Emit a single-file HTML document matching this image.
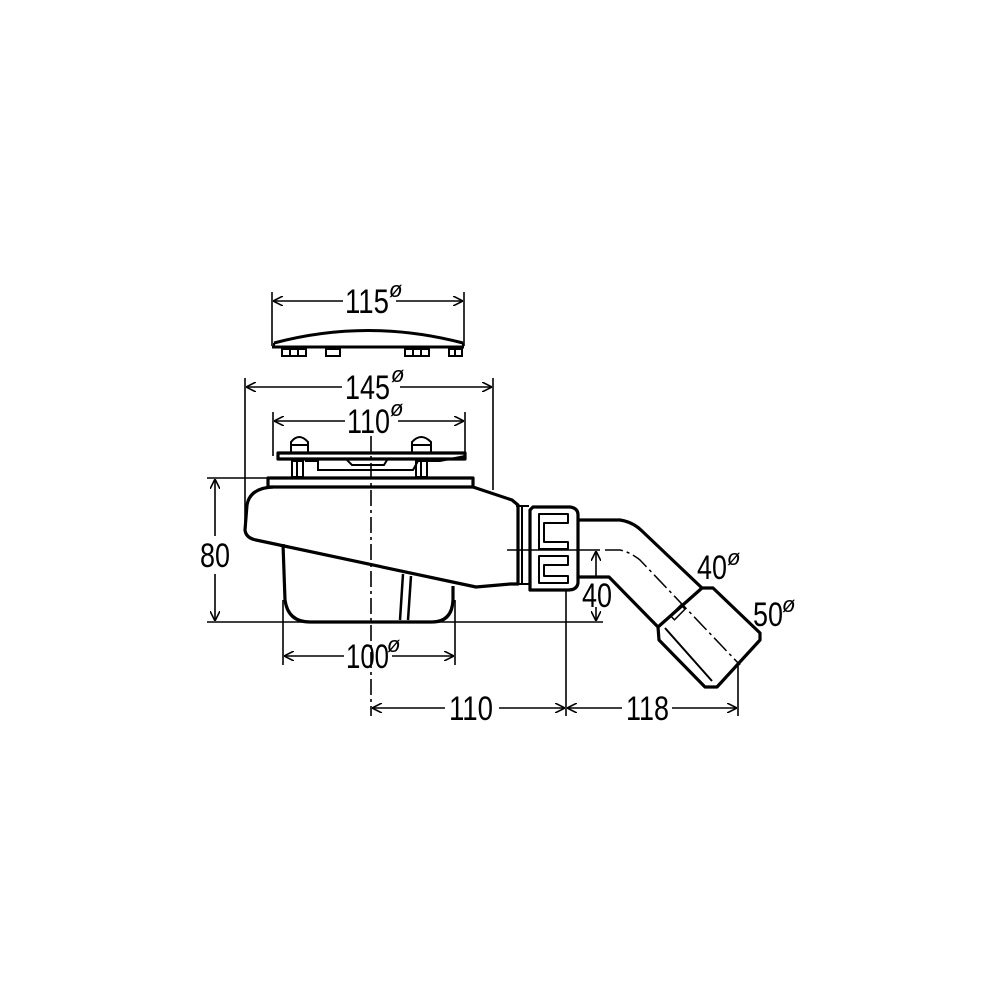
<!DOCTYPE html>
<html><head><style>html,body{margin:0;padding:0;background:#fff}svg{display:block}</style></head><body>
<svg width="1000" height="1000" viewBox="0 0 1000 1000" xmlns="http://www.w3.org/2000/svg">
<defs>
<marker id="a" viewBox="0 0 10 10" refX="10" refY="5" markerWidth="10" markerHeight="10" markerUnits="userSpaceOnUse" orient="auto-start-reverse"><path d="M0,0 L10,5 L0,10" fill="none" stroke="#000" stroke-width="1.6"/></marker>
</defs>
<g fill="none" stroke="#000" stroke-width="1.6">
<line x1="272" y1="292" x2="272" y2="346"/><line x1="464" y1="292" x2="464" y2="346"/>
<line x1="273" y1="301" x2="343" y2="301" marker-start="url(#a)"/><line x1="396" y1="301" x2="463" y2="301" marker-end="url(#a)"/>
<line x1="245" y1="378" x2="245" y2="522"/><line x1="493" y1="378" x2="493" y2="490"/>
<line x1="246" y1="387" x2="342" y2="387" marker-start="url(#a)"/><line x1="400" y1="387" x2="492" y2="387" marker-end="url(#a)"/>
<line x1="273" y1="412" x2="273" y2="456"/><line x1="465" y1="412" x2="465" y2="456"/>
<line x1="274" y1="421" x2="345" y2="421" marker-start="url(#a)"/><line x1="398" y1="421" x2="464" y2="421" marker-end="url(#a)"/>
<line x1="371" y1="436" x2="371" y2="716" stroke-dasharray="16,4,3,4"/>
<line x1="207" y1="478" x2="270" y2="478"/><line x1="207" y1="622" x2="603" y2="622"/>
<line x1="215" y1="479" x2="215" y2="536" marker-start="url(#a)"/><line x1="215" y1="574" x2="215" y2="621" marker-end="url(#a)"/>
<line x1="283" y1="600" x2="283" y2="665"/><line x1="455" y1="600" x2="455" y2="665"/>
<line x1="284" y1="656" x2="344" y2="656" marker-start="url(#a)"/><line x1="392" y1="656" x2="454" y2="656" marker-end="url(#a)"/>
<line x1="566" y1="590" x2="566" y2="716"/><line x1="738" y1="665" x2="738" y2="716"/>
<line x1="372" y1="708" x2="445" y2="708" marker-start="url(#a)"/><line x1="499" y1="708" x2="565" y2="708" marker-end="url(#a)"/>
<line x1="567" y1="708" x2="622" y2="708" marker-start="url(#a)"/><line x1="672" y1="708" x2="737" y2="708" marker-end="url(#a)"/>
<line x1="507" y1="550" x2="600" y2="550"/>
<line x1="596" y1="551" x2="596" y2="578" marker-start="url(#a)"/><line x1="596" y1="607" x2="596" y2="621" marker-end="url(#a)"/>
</g>
<g fill="none" stroke="#000" stroke-width="3" stroke-linejoin="round">
<path d="M274,343 Q368,318 463,343"/><line x1="272" y1="347" x2="464" y2="347"/>
<path d="M274,343 L274,348 M463,343 L463,348" stroke-width="2"/>
</g>
<g fill="none" stroke="#000" stroke-width="2">
<rect x="282" y="349" width="24" height="7"/><line x1="290" y1="349" x2="290" y2="356"/><line x1="298" y1="349" x2="298" y2="356"/>
<rect x="326" y="349" width="14" height="7"/>
<rect x="405" y="349" width="24" height="7"/><line x1="413" y1="349" x2="413" y2="356"/><line x1="421" y1="349" x2="421" y2="356"/>
<rect x="449" y="349" width="13" height="7"/><line x1="455" y1="349" x2="455" y2="356"/>
<path d="M291,452 L291,442 Q299,432 308,442 L308,452"/><line x1="290" y1="445" x2="309" y2="445"/>
<path d="M412,452 L412,442 Q421,432 431,442 L431,452"/><line x1="411" y1="445" x2="432" y2="445"/>
<rect x="292" y="461" width="11" height="16"/><line x1="297" y1="461" x2="297" y2="477"/>
<rect x="416" y="461" width="11" height="16"/><line x1="421" y1="461" x2="421" y2="477"/>
<path d="M305,461 L318,461 L318,470 L413,470 L418,461 L440,461 L465,456"/>
<path d="M347,460 L352,465 L384,465 L387,460"/>
</g>
<g fill="none" stroke="#000" stroke-width="3.2" stroke-linejoin="round">
<rect x="278" y="453" width="187" height="6"/>
<rect x="268" y="478" width="205" height="9"/>
<path d="M273,487 Q250,488 247,505 L245,530 Q246,538 256,540 L476,587 L510,584 L518,584 L518,505 L512,500 L473,487"/>
<path d="M516,506 L529,506 M516,584 L529,584" stroke-width="2"/>
<line x1="522" y1="506" x2="522" y2="584" stroke-width="2"/>
<path d="M283,544 L285,600 Q288,622 310,622 L432,622 Q452,622 453,600 L453,586"/>
<path d="M403,574 L400,620 M411,576 L408,620" stroke-width="2.5"/>
<path d="M533,507 L570,507 Q578,508 578,515 L578,583 Q577,590 568,590 L530,590 L530,510 Z"/>
<path d="M539,514 L568,514 L568,523 L544,523 L544,542 L568,542 L568,549 L539,549 Z" stroke-width="2"/>
<path d="M539,556 L568,556 L568,565 L544,565 L544,576 L568,576 L568,583 L539,583 Z" stroke-width="2"/>
<path d="M578,520 L620,520 Q633,522 642,531 L702,588"/>
<path d="M578,577 L609,577 L658,627"/>
<path d="M702,588 L713,588 L760,633 L760,640 L717,687 L705,687 L659,640 L658,627 Z"/>
<line x1="665" y1="628" x2="712" y2="681" stroke-width="2"/>
</g>
<g fill="none" stroke="#000" stroke-width="1.5">
<path d="M605,550 L620,550 Q630,552 640,560 L740,665" stroke-dasharray="18,4,3,4"/>
<rect x="675" y="605" width="6" height="15" transform="rotate(45 678 612)"/>
</g>
<g font-family="Liberation Sans, Arial, sans-serif" font-size="34" fill="#000">
<text x="345" y="313" textLength="44" lengthAdjust="spacingAndGlyphs">115</text>
<text x="345" y="399" textLength="45" lengthAdjust="spacingAndGlyphs">145</text>
<text x="347" y="433" textLength="43" lengthAdjust="spacingAndGlyphs">110</text>
<text x="200" y="567" textLength="30" lengthAdjust="spacingAndGlyphs">80</text>
<text x="346" y="668" textLength="43" lengthAdjust="spacingAndGlyphs">100</text>
<text x="449" y="720" textLength="44" lengthAdjust="spacingAndGlyphs">110</text>
<text x="626" y="720" textLength="43" lengthAdjust="spacingAndGlyphs">118</text>
<text x="582" y="607" textLength="30" lengthAdjust="spacingAndGlyphs">40</text>
<text x="697" y="579" textLength="30" lengthAdjust="spacingAndGlyphs">40</text>
<text x="753" y="626" textLength="30" lengthAdjust="spacingAndGlyphs">50</text>
</g>
<g font-family="Liberation Sans, DejaVu Sans, sans-serif" font-size="22" font-style="italic" fill="#000">
<text x="389" y="297">ø</text><text x="391" y="382">ø</text><text x="390" y="416">ø</text>
<text x="387" y="652">ø</text><text x="727" y="565">ø</text><text x="782" y="612">ø</text>
</g>
</svg>
</body></html>
